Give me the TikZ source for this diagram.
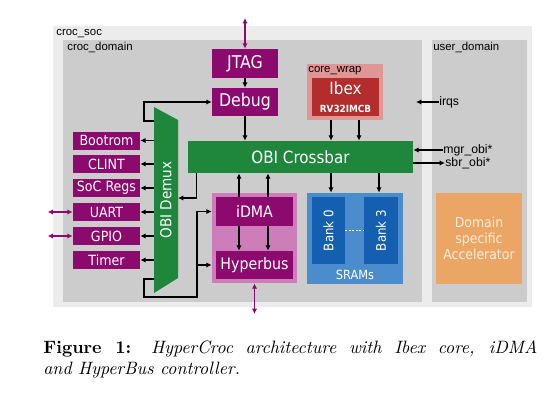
\documentclass[tikz,border=0pt]{standalone}
\usepackage{fontspec}
\newfontfamily\blockfont{DejaVu Sans Condensed}
\newfontfamily\labelfont{Liberation Sans}
\usetikzlibrary{arrows.meta}
\definecolor{socGris}{RGB}{236,236,236}
\definecolor{domGris}{RGB}{204,204,204}
\definecolor{obiVerde}{RGB}{30,135,60}
\definecolor{perMorado}{RGB}{140,10,110}
\definecolor{dmaRosa}{RGB}{205,125,185}
\definecolor{coreRosa}{RGB}{225,150,150}
\definecolor{ibexRojo}{RGB}{180,45,45}
\definecolor{sramAzul}{RGB}{75,140,205}
\definecolor{bankAzul}{RGB}{20,95,175}
\definecolor{accNaranja}{RGB}{235,165,100}
\definecolor{accTexto}{RGB}{252,236,220}
\newcommand{\pxu}{0.57pt}

\tikzset{
  blk/.style={inner sep=0pt, text=white},
  perbox/.style={blk, fill=perMorado, minimum width=67*\pxu, minimum height=18*\pxu,
    font=\blockfont\fontsize{8}{9}\selectfont},
  arr/.style={-{Latex[length=3pt,width=3pt]}, line width=0.9pt},
  pio/.style={{Latex[length=3pt,width=3pt]}-{Latex[length=3pt,width=3pt]}, perMorado, line width=0.8pt},
  lbl/.style={font=\labelfont\fontsize{6.5}{7}\selectfont, inner sep=0pt}
}

\begin{document}
\begin{tikzpicture}[x=0.57pt, y=-0.57pt]
  \useasboundingbox (0,0) rectangle (552,402);
  \fill[white] (0,0) rectangle (552,402);

  % DOMINIOS
  \fill[socGris] (53,26) rectangle (532,307);
  \fill[domGris] (63,40) rectangle (422,302);
  \fill[domGris] (432,40) rectangle (527,302);
  \node[lbl, anchor=base west] (soclbl) at (56,35) {croc\_soc};
  \node[lbl, anchor=base west] (croclbl) at (67,50) {croc\_domain};
  \node[lbl, anchor=base west] (userlbl) at (433,50) {user\_domain};

  % CONTENEDORES
  \node[fill=coreRosa, minimum width=76*\pxu, minimum height=56*\pxu, inner sep=0pt] (corewrap) at (345,92) {};
  \node[lbl, anchor=base west] (corelbl) at (308,72) {core\_wrap};
  \node[fill=dmaRosa, minimum width=85*\pxu, minimum height=90*\pxu, inner sep=0pt] (dmawrap) at (254.5,238) {};
  \node[fill=sramAzul, minimum width=96*\pxu, minimum height=91*\pxu, inner sep=0pt] (sramwrap) at (355,238.5) {};

  % BLOQUES
  \node[blk, fill=perMorado, minimum width=66*\pxu, minimum height=29*\pxu,
    font=\blockfont\fontsize{10}{11}\selectfont] (jtag) at (245,63.5) {JTAG};
  \node[blk, fill=perMorado, minimum width=66*\pxu, minimum height=28*\pxu,
    font=\blockfont\fontsize{10}{11}\selectfont] (debug) at (245,102) {Debug};
  \node[blk, fill=obiVerde, minimum width=225*\pxu, minimum height=32*\pxu,
    font=\blockfont\fontsize{9.6}{11}\selectfont] (xbar) at (300.5,157) {OBI Crossbar};
  \node[blk, fill=ibexRojo, minimum width=67*\pxu, minimum height=38*\pxu, align=center]
    (ibex) at (345.5,97) {\blockfont\fontsize{9.6}{10}\selectfont Ibex\\[-2pt]
    {\blockfont\bfseries\fontsize{5.6}{6}\selectfont RV32IMCB}};

  \node[blk, fill=perMorado, minimum width=77*\pxu, minimum height=29*\pxu,
    font=\blockfont\fontsize{9}{10}\selectfont] (idma) at (254.5,211.5) {iDMA};
  \node[blk, fill=perMorado, minimum width=77*\pxu, minimum height=28*\pxu,
    font=\blockfont\fontsize{9}{10}\selectfont] (hyperbus) at (254.5,265) {Hyperbus};

  \node[blk, fill=bankAzul, minimum width=33*\pxu, minimum height=67*\pxu,
    font=\blockfont\fontsize{7.5}{8}\selectfont] (bank0) at (328.5,230.5) {\rotatebox{90}{Bank 0}};
  \node[blk, fill=bankAzul, minimum width=34*\pxu, minimum height=67*\pxu,
    font=\blockfont\fontsize{7.5}{8}\selectfont] (bank3) at (381,230.5) {\rotatebox{90}{Bank 3}};
  \draw[white, line width=0.6pt, dash pattern=on 1pt off 1pt] (bank0.east) -- (bank3.west);
  \node[blk, font=\blockfont\fontsize{7.2}{8}\selectfont] (sramlbl) at (355,274.5) {SRAMs};

  \node[blk, fill=accNaranja, text=accTexto, minimum width=86*\pxu, minimum height=91*\pxu,
    align=center, font=\blockfont\fontsize{7.9}{9.2}\selectfont] (accel) at (479,238.5)
    {Domain\\specific\\Accelerator};

  % PERIFERICOS
  \node[perbox] (bootrom) at (106.5,140.5) {Bootrom};
  \node[perbox] (clint) at (106.5,164) {CLINT};
  \node[perbox] (socregs) at (106.5,188) {SoC Regs};
  \node[perbox] (uart) at (106.5,212) {UART};
  \node[perbox] (gpio) at (106.5,236) {GPIO};
  \node[perbox] (timer) at (106.5,260) {Timer};

  % OBI DEMUX
  \fill[obiVerde] (154,107) -- (178,120) -- (178,278) -- (154,293) -- cycle;
  \node[blk, rotate=90, font=\blockfont\fontsize{8.6}{9}\selectfont] (demux) at (166,200) {OBI Demux};
  \coordinate (dmxleft) at (154,200);
  \coordinate (dmxdbg) at (154,121);
  \coordinate (dmxloop) at (154,279);
  \coordinate (dmxin) at (178,198);
  \coordinate (loopx) at (197,297);

  % ENTRADAS Y SALIDAS
  \coordinate (jtagio) at (245,18);
  \coordinate (hbio) at (254.5,314);
  \coordinate (irqin) at (416,102);
  \node[lbl, font=\labelfont\fontsize{7}{8}\selectfont, anchor=west] (irqs) at (439,102) {irqs};
  \node[lbl, font=\labelfont\fontsize{7}{8}\selectfont, anchor=west] (mgr) at (443,150) {mgr\_obi*};
  \node[lbl, font=\labelfont\fontsize{7}{8}\selectfont, anchor=west] (sbr) at (445,163) {sbr\_obi*};

  % CONEXIONES
  \draw[pio] (jtagio) -- (jtag.north);
  \draw[arr] (jtag) -- (debug);
  \draw[arr] (debug.south) -- (debug.south |- xbar.north);
  \draw[arr] (dmxdbg) -- ++(-10,0) |- (debug.west);
  \draw[arr] ([xshift=9*\pxu]xbar.south west) |- (dmxin);

  \draw[arr] (bootrom.east -| dmxleft) -- (bootrom.east);
  \draw[arr] (clint.east -| dmxleft) -- (clint.east);
  \draw[arr] (socregs.east -| dmxleft) -- (socregs.east);
  \draw[arr] (uart.east -| dmxleft) -- (uart.east);
  \draw[arr] (gpio.east -| dmxleft) -- (gpio.east);
  \draw[arr] (timer.east -| dmxleft) -- (timer.east);
  \draw[pio] (uart.west) -- ++(-25,0);
  \draw[pio] (gpio.west) -- ++(-25,0);

  \draw[arr] (dmxloop) -- ++(-10,0) |- (loopx) |- (dmawrap.west |- idma);
  \draw[arr] (loopx |- hyperbus) -- (dmawrap.west |- hyperbus);

  \draw[arr] ([xshift=-15.5*\pxu]idma.north) -- ([xshift=-15.5*\pxu]idma.north |- xbar.south);
  \draw[arr] ([xshift=13.5*\pxu]idma.north) -- ([xshift=13.5*\pxu]idma.north |- xbar.south);
  \draw[arr] ([xshift=-15.5*\pxu]idma.south) -- ([xshift=-15.5*\pxu]hyperbus.north);
  \draw[arr] ([xshift=13.5*\pxu]idma.south) -- ([xshift=13.5*\pxu]hyperbus.north);
  \draw[pio] (hyperbus.south |- dmawrap.south) -- (hbio);

  \draw[arr] ([xshift=-14*\pxu]corewrap.south) -- ([xshift=-14*\pxu]corewrap.south |- xbar.north);
  \draw[arr] ([xshift=14*\pxu]corewrap.south) -- ([xshift=14*\pxu]corewrap.south |- xbar.north);
  \draw[arr] ([xshift=-24*\pxu]sramwrap.north |- xbar.south) -- ([xshift=-24*\pxu]sramwrap.north);
  \draw[arr] ([xshift=24*\pxu]sramwrap.north |- xbar.south) -- ([xshift=24*\pxu]sramwrap.north);

  \draw[arr] (irqs.west) -- (irqin);
  \draw[arr] (mgr.west) -- (mgr.west -| xbar.east);
  \draw[arr] (sbr.west -| xbar.east) -- (sbr.west);

  % LEYENDA
  \node[anchor=north west, inner sep=0pt, text width=494*\pxu, align=justify,
    font=\fontsize{10.2}{12}\selectfont] (caption) at (43,340)
    {\textbf{Figure 1:} \textit{HyperCroc architecture with Ibex core, iDMA\linebreak
    and HyperBus controller.}};
\end{tikzpicture}
\end{document}
